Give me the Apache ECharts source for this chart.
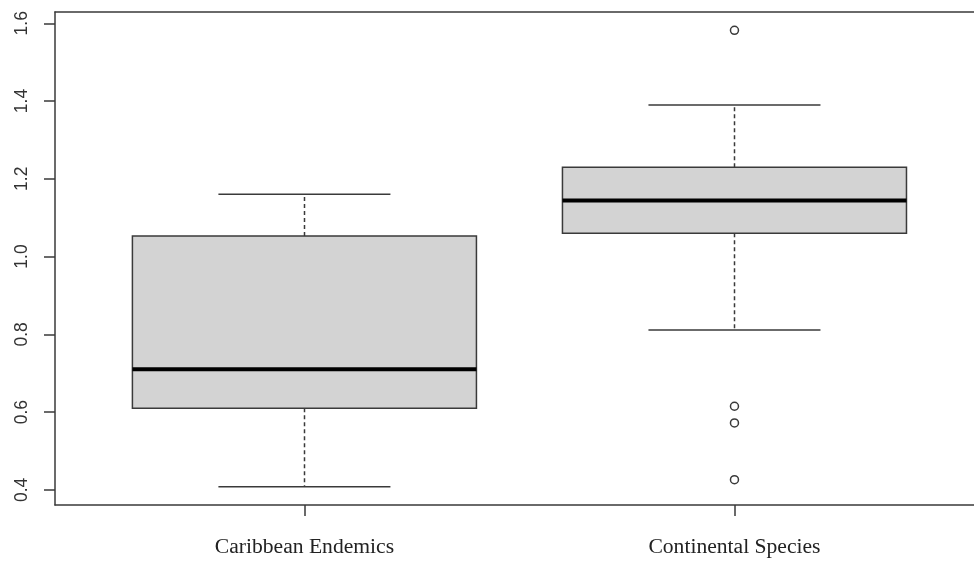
<!DOCTYPE html>
<html>
<head>
<meta charset="utf-8">
<script src="https://cdn.jsdelivr.net/npm/echarts@6/dist/echarts.min.js"></script>
<style>
  html, body { margin: 0; padding: 0; background: #ffffff; }
  #chart { width: 974px; height: 561px; }
</style>
</head>
<body>
<div id="chart"></div>
<script>
// ---- data ----
const categories = ['Caribbean Endemics', 'Continental Species'];
const lowWhisker  = [0.408, 0.811];
const q1          = [0.610, 1.060];
const median      = [0.710, 1.144];
const q3          = [1.053, 1.230];
const highWhisker = [1.160, 1.390];
const outliers    = [[], [1.582, 0.615, 0.572, 0.426]];
const yTicks      = [0.4, 0.6, 0.8, 1.0, 1.2, 1.4, 1.6];
const xPositions  = [1, 2];

// ---- build series data ----
const boxData = categories.map((c, i) => [xPositions[i], lowWhisker[i], q1[i], median[i], q3[i], highWhisker[i]]);
const outlierData = [];
outliers.forEach((arr, i) => arr.forEach(v => outlierData.push([xPositions[i], v])));

const LINE = '#3a3a3a';
const LW = 1.5;
const BOX_HALF = 0.4;
const CAP_HALF = 0.2;
const X_MIN = 0.42, X_MAX = 2.557; // plot frame runs past the right edge of the image

function renderBox(params, api) {
  const x = api.value(0);
  const lo = api.value(1), a = api.value(2), m = api.value(3), b = api.value(4), hi = api.value(5);
  const pL = api.coord([x - BOX_HALF, b]);
  const pR = api.coord([x + BOX_HALF, a]);
  const pC = api.coord([x, m]);
  const cL = api.coord([x - CAP_HALF, hi]);
  const cR = api.coord([x + CAP_HALF, lo]);
  const yHi = api.coord([x, hi])[1];
  const yLo = api.coord([x, lo])[1];
  const yQ3 = pL[1], yQ1 = pR[1];
  const cx = Math.round(pC[0]) + 0.5;
  return {
    type: 'group',
    children: [
      { type: 'line', shape: { x1: cx, y1: yQ3, x2: cx, y2: yHi },
        style: { stroke: LINE, lineWidth: LW, lineDash: [4, 3] } },
      { type: 'line', shape: { x1: cx, y1: yQ1, x2: cx, y2: yLo },
        style: { stroke: LINE, lineWidth: LW, lineDash: [4, 3] } },
      { type: 'line', shape: { x1: cL[0], y1: yHi, x2: cR[0], y2: yHi },
        style: { stroke: LINE, lineWidth: LW } },
      { type: 'line', shape: { x1: cL[0], y1: yLo, x2: cR[0], y2: yLo },
        style: { stroke: LINE, lineWidth: LW } },
      { type: 'rect', shape: { x: pL[0], y: yQ3, width: pR[0] - pL[0], height: yQ1 - yQ3 },
        style: { fill: '#d3d3d3', stroke: LINE, lineWidth: LW } },
      { type: 'line', shape: { x1: pL[0], y1: pC[1], x2: pR[0], y2: pC[1] },
        style: { stroke: '#000000', lineWidth: 4 } }
    ]
  };
}

const chart = echarts.init(document.getElementById('chart'), null, { renderer: 'canvas' });
chart.setOption({
  animation: false,
  backgroundColor: '#ffffff',
  grid: { left: 55, top: 12, bottom: 56, right: 0, show: false },
  xAxis: [
    {
      type: 'value', min: X_MIN, max: X_MAX, position: 'bottom',
      splitLine: { show: false },
      axisLine: { show: true, onZero: false, lineStyle: { color: LINE, width: LW } },
      axisTick: { show: true, length: 11, customValues: xPositions, lineStyle: { color: LINE, width: LW } },
      axisLabel: {
        customValues: xPositions,
        formatter: v => categories[xPositions.indexOf(v)] || '',
        fontFamily: 'Liberation Serif', fontSize: 21.6, color: '#222', margin: 31
      }
    },
    {
      type: 'value', min: X_MIN, max: X_MAX, position: 'top',
      splitLine: { show: false },
      axisLine: { show: true, onZero: false, lineStyle: { color: LINE, width: LW } },
      axisTick: { show: false },
      axisLabel: { show: false }
    }
  ],
  yAxis: {
    type: 'value', min: 0.361, max: 1.629,
    splitLine: { show: false },
    axisLine: { show: true, onZero: false, lineStyle: { color: LINE, width: LW } },
    axisTick: { show: true, length: 11, customValues: yTicks, lineStyle: { color: LINE, width: LW } },
    axisLabel: {
      customValues: yTicks,
      rotate: 90,
      formatter: v => v.toFixed(1),
      fontFamily: 'Liberation Sans', fontSize: 17.5, color: '#333', margin: 24
    }
  },
  series: [
    {
      type: 'custom',
      renderItem: renderBox,
      data: boxData,
      encode: { x: 0, y: [1, 2, 3, 4, 5] },
      z: 2
    },
    {
      type: 'scatter',
      data: outlierData,
      symbol: 'circle',
      symbolSize: 8,
      itemStyle: { color: '#ffffff', borderColor: LINE, borderWidth: LW, opacity: 1 },
      z: 3
    }
  ]
});
</script>
</body>
</html>
